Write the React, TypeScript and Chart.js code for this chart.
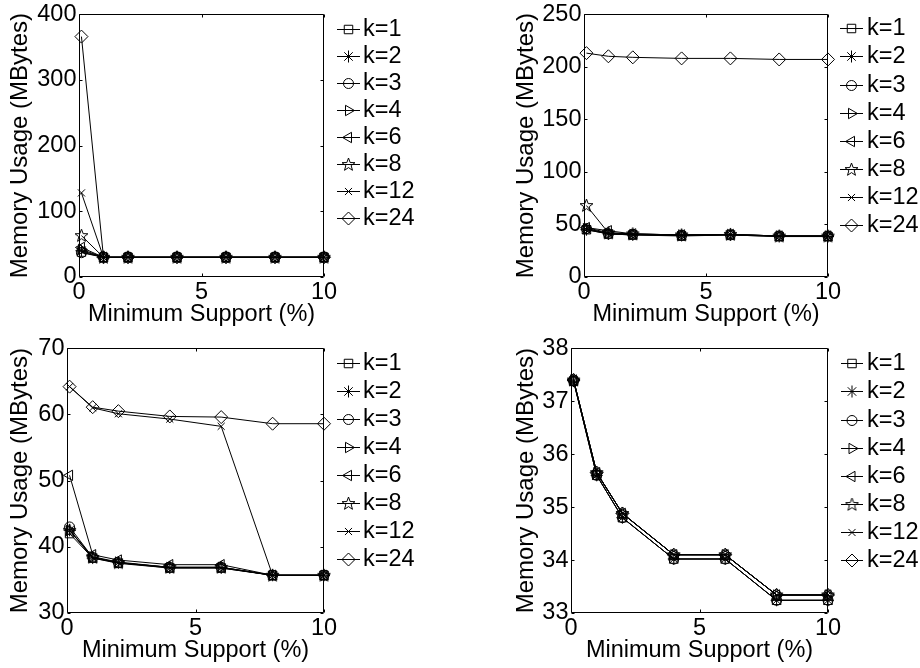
import React, { useEffect, useRef } from "react";
import { Chart, registerables } from "chart.js";
import { drawPoint } from "chart.js/helpers";

Chart.register(...registerables);

// ---------- data ----------
const xValues = [0.1, 1, 2, 4, 6, 8, 10];
const seriesLabels = ["k=1", "k=2", "k=3", "k=4", "k=6", "k=8", "k=12", "k=24"];
const xAxisTitle = "Minimum Support (%)";
const yAxisTitle = "Memory Usage (MBytes)";

const p1K1 = [38, 30, 30, 30, 30, 30, 30];
const p1K2 = [40, 30, 30, 30, 30, 30, 30];
const p1K3 = [37, 30, 30, 30, 30, 30, 30];
const p1K4 = [42, 30, 30, 30, 30, 30, 30];
const p1K6 = [45, 30, 30, 30, 30, 30, 30];
const p1K8 = [63, 30, 30, 30, 30, 30, 30];
const p1K12 = [128, 30, 30, 30, 30, 30, 30];
const p1K24 = [366, 30, 30, 30, 30, 30, 30];

const p2K1 = [45, 41, 40, 39, 40, 38.5, 38.5];
const p2K2 = [45, 41, 40, 39.5, 40, 38.5, 38.5];
const p2K3 = [46, 41, 40.5, 39.5, 40, 39, 39];
const p2K4 = [46, 41.5, 40.5, 40, 40.5, 39, 39];
const p2K6 = [47, 44, 41, 40, 40.5, 39, 39];
const p2K8 = [68, 42, 41, 40, 40.5, 39, 39];
const p2K12 = [47, 42, 41, 40, 40.5, 39, 39];
const p2K24 = [213, 210, 209, 208, 208, 207, 207];

const p3K1 = [42, 38.3, 37.5, 36.8, 36.8, 35.7, 35.7];
const p3K2 = [42.5, 38.3, 37.6, 36.8, 36.8, 35.7, 35.7];
const p3K3 = [43, 38.4, 37.6, 36.9, 36.9, 35.7, 35.7];
const p3K4 = [42.5, 38.5, 37.7, 36.9, 36.9, 35.7, 35.7];
const p3K6 = [50.8, 38.8, 38, 37.3, 37.3, 35.7, 35.7];
const p3K8 = [42.5, 38.4, 37.6, 36.9, 36.9, 35.7, 35.7];
const p3K12 = [64.2, 61, 60.1, 59.3, 58.2, 35.7, 35.7];
const p3K24 = [64.2, 61.1, 60.5, 59.7, 59.6, 58.6, 58.6];

const p4K1 = [37.38, 35.6, 34.8, 34.02, 34.02, 33.24, 33.24];
const p4K2 = [37.38, 35.6, 34.8, 34.02, 34.02, 33.24, 33.24];
const p4K3 = [37.38, 35.6, 34.8, 34.02, 34.02, 33.24, 33.24];
const p4K4 = [37.4, 35.65, 34.88, 34.1, 34.1, 33.34, 33.34];
const p4K6 = [37.4, 35.65, 34.88, 34.1, 34.1, 33.34, 33.34];
const p4K8 = [37.4, 35.65, 34.88, 34.1, 34.1, 33.34, 33.34];
const p4K12 = [37.4, 35.65, 34.88, 34.1, 34.1, 33.34, 33.34];
const p4K24 = [37.4, 35.65, 34.88, 34.1, 34.1, 33.34, 33.34];

const p1Series = [p1K1, p1K2, p1K3, p1K4, p1K6, p1K8, p1K12, p1K24];
const p2Series = [p2K1, p2K2, p2K3, p2K4, p2K6, p2K8, p2K12, p2K24];
const p3Series = [p3K1, p3K2, p3K3, p3K4, p3K6, p3K8, p3K12, p3K24];
const p4Series = [p4K1, p4K2, p4K3, p4K4, p4K6, p4K8, p4K12, p4K24];

const p1Y = { min: 0, max: 400, step: 100 };
const p2Y = { min: 0, max: 250, step: 50 };
const p3Y = { min: 30, max: 70, step: 10 };
const p4Y = { min: 33, max: 38, step: 1 };

// ---------- styling ----------
const FONT = '"Liberation Sans", Arial, Helvetica, sans-serif';
const FS = 23.5;
const FS_YTITLE = 24;
const CW = 460;
const CH = 334;

function makePentagram(): HTMLCanvasElement {
  const c = document.createElement("canvas");
  c.width = 15;
  c.height = 15;
  const g = c.getContext("2d")!;
  const cx = 7.5, cy = 7.8, R = 6.8, r = 2.8;
  g.beginPath();
  for (let i = 0; i < 10; i++) {
    const ang = -Math.PI / 2 + (i * Math.PI) / 5;
    const rr = i % 2 === 0 ? R : r;
    const px = cx + rr * Math.cos(ang);
    const py = cy + rr * Math.sin(ang);
    if (i === 0) g.moveTo(px, py);
    else g.lineTo(px, py);
  }
  g.closePath();
  g.strokeStyle = "#000";
  g.lineWidth = 1;
  g.stroke();
  return c;
}

type Marker = { style: any; rotation: number; radius: number };

function markers(): Marker[] {
  const star = makePentagram();
  return [
    { style: "rect", rotation: 0, radius: 6 },
    { style: "star", rotation: 0, radius: 6 },
    { style: "circle", rotation: 0, radius: 5 },
    { style: "triangle", rotation: 90, radius: 6 },
    { style: "triangle", rotation: -90, radius: 6 },
    { style: star, rotation: 0, radius: 6 },
    { style: "crossRot", rotation: 0, radius: 5 },
    { style: "rectRot", rotation: 0, radius: 6.5 },
  ];
}

type PanelCfg = {
  left: number;
  top: number;
  area: { left: number; right: number; top: number; bottom: number };
  yTitleX: number;
  yRange: { min: number; max: number; step: number };
  series: number[][];
  legend: { x0: number; x1: number; textX: number; y0: number; gap: number };
};

const panels: PanelCfg[] = [
  {
    left: 0,
    top: 0,
    area: { left: 79, right: 324, top: 13, bottom: 277 },
    yTitleX: 20,
    yRange: p1Y,
    series: p1Series,
    legend: { x0: 337, x1: 360, textX: 363, y0: 29.3, gap: 27 },
  },
  {
    left: 460,
    top: 0,
    area: { left: 124, right: 368, top: 13, bottom: 277 },
    yTitleX: 66,
    yRange: p2Y,
    series: p2Series,
    legend: { x0: 380, x1: 403, textX: 407, y0: 28.3, gap: 28.1 },
  },
  {
    left: 0,
    top: 334,
    area: { left: 67, right: 324, top: 13, bottom: 279 },
    yTitleX: 20,
    yRange: p3Y,
    series: p3Series,
    legend: { x0: 337, x1: 360, textX: 363, y0: 29.3, gap: 27.9 },
  },
  {
    left: 460,
    top: 334,
    area: { left: 111, right: 368, top: 13, bottom: 279 },
    yTitleX: 66,
    yRange: p4Y,
    series: p4Series,
    legend: { x0: 381, x1: 403, textX: 407, y0: 29.3, gap: 28.1 },
  },
];

function Panel({ cfg }: { cfg: PanelCfg }) {
  const ref = useRef<HTMLCanvasElement>(null);
  useEffect(() => {
    const canvas = ref.current!;
    const mk = markers();
    const a = cfg.area;

    const framePlugin = {
      id: "frame",
      afterDatasetsDraw(chart: any) {
        const { ctx, chartArea: ca, scales } = chart;
        ctx.save();
        ctx.strokeStyle = "#000";
        ctx.lineWidth = 1;
        const L = Math.round(ca.left) + 0.5;
        const R = Math.round(ca.right) - 0.5;
        const T = Math.round(ca.top) + 0.5;
        const B = Math.round(ca.bottom) - 0.5;
        ctx.beginPath();
        ctx.rect(L, T, R - L, B - T);
        ctx.stroke();
        const tl = 3;
        ctx.beginPath();
        scales.x.ticks.forEach((t: any) => {
          const px = Math.round(scales.x.getPixelForValue(t.value)) + 0.5;
          ctx.moveTo(px, B);
          ctx.lineTo(px, B - tl);
          ctx.moveTo(px, T);
          ctx.lineTo(px, T + tl);
        });
        scales.y.ticks.forEach((t: any) => {
          const py = Math.round(scales.y.getPixelForValue(t.value)) + 0.5;
          ctx.moveTo(L, py);
          ctx.lineTo(L + tl, py);
          ctx.moveTo(R, py);
          ctx.lineTo(R - tl, py);
        });
        ctx.stroke();
        ctx.restore();
      },
    };

    const legendPlugin = {
      id: "kLegend",
      afterDraw(chart: any) {
        const ctx = chart.ctx;
        const lg = cfg.legend;
        ctx.save();
        chart.data.datasets.forEach((ds: any, i: number) => {
          const y = Math.round(lg.y0 + i * lg.gap) + 0.5;
          ctx.strokeStyle = "#000";
          ctx.lineWidth = 1;
          ctx.beginPath();
          ctx.moveTo(lg.x0, y);
          ctx.lineTo(lg.x1, y);
          ctx.stroke();
          ctx.fillStyle = "rgba(0,0,0,0)";
          drawPoint(
            ctx,
            {
              pointStyle: ds.pointStyle,
              rotation: ds.pointRotation,
              radius: ds.pointRadius,
              borderWidth: 1,
            } as any,
            (lg.x0 + lg.x1) / 2,
            y
          );
          ctx.fillStyle = "#000";
          ctx.font = `${FS}px ${FONT}`;
          ctx.textAlign = "left";
          ctx.textBaseline = "middle";
          ctx.fillText(ds.label, lg.textX, y);
        });
        ctx.restore();
      },
    };

    const datasets = cfg.series.map((vals, i) => ({
      label: seriesLabels[i],
      data: xValues.map((x, j) => ({ x, y: vals[j] })),
      borderColor: "#000",
      borderWidth: 1,
      backgroundColor: "rgba(0,0,0,0)",
      pointStyle: mk[i].style,
      pointRotation: mk[i].rotation,
      pointRadius: mk[i].radius,
      pointBorderColor: "#000",
      pointBackgroundColor: "rgba(0,0,0,0)",
      pointBorderWidth: 1,
      tension: 0,
      fill: false,
      clip: false,
    }));

    const chart = new Chart(canvas, {
      type: "line",
      data: { datasets } as any,
      options: {
        animation: false,
        responsive: false,
        devicePixelRatio: 1,
        layout: {
          padding: { left: 0, top: a.top, right: CW - a.right, bottom: 0 },
        },
        plugins: {
          legend: { display: false },
          tooltip: { enabled: false },
        },
        scales: {
          x: {
            type: "linear",
            min: 0,
            max: 10,
            grid: { display: false, drawTicks: false },
            border: { display: false },
            ticks: {
              stepSize: 5,
              color: "#000",
              padding: 3.5,
              maxRotation: 0,
              font: { family: FONT, size: FS, lineHeight: 1 },
            },
            title: {
              display: true,
              text: xAxisTitle,
              color: "#000",
              font: { family: FONT, size: FS, lineHeight: 1 },
              padding: { top: 0, bottom: CH - a.bottom - 37.5 - FS / 2 },
            },
            afterFit: (s: any) => {
              s.height = CH - a.bottom;
            },
          },
          y: {
            type: "linear",
            min: cfg.yRange.min,
            max: cfg.yRange.max,
            grid: { display: false, drawTicks: false },
            border: { display: false },
            ticks: {
              stepSize: cfg.yRange.step,
              color: "#000",
              padding: 2.5,
              font: { family: FONT, size: FS, lineHeight: 1 },
            },
            title: {
              display: true,
              text: yAxisTitle,
              color: "#000",
              font: { family: FONT, size: FS_YTITLE, lineHeight: 1 },
              padding: { top: cfg.yTitleX - FS_YTITLE / 2, bottom: 0 },
            },
            afterFit: (s: any) => {
              s.width = a.left;
            },
          },
        },
      } as any,
      plugins: [framePlugin, legendPlugin],
    });
    return () => chart.destroy();
  }, [cfg]);

  return (
    <canvas
      ref={ref}
      width={CW}
      height={CH}
      style={{
        position: "absolute",
        left: cfg.left,
        top: cfg.top,
        width: CW,
        height: CH,
      }}
    />
  );
}

export default function App() {
  return (
    <div
      style={{
        position: "fixed",
        left: 0,
        top: 0,
        width: 920,
        height: 668,
        background: "#fff",
        overflow: "hidden",
      }}
    >
      {panels.map((p, i) => (
        <Panel key={i} cfg={p} />
      ))}
    </div>
  );
}
